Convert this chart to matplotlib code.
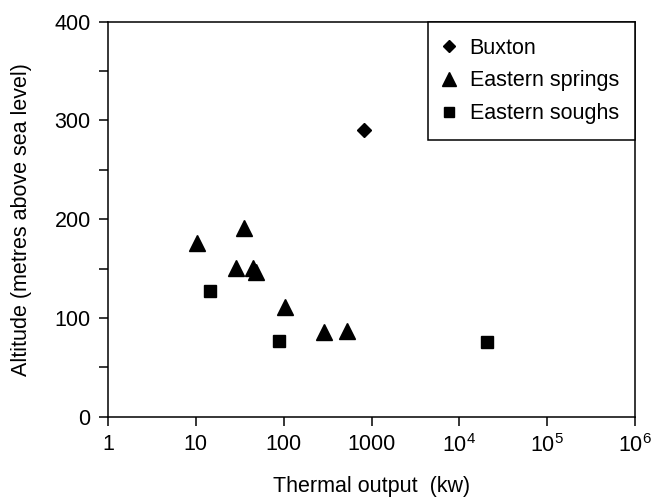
import matplotlib
matplotlib.use("Agg")
import matplotlib.pyplot as plt
from matplotlib.ticker import FixedLocator, NullLocator, MultipleLocator

plt.rcParams['font.family'] = ['Liberation Sans', 'DejaVu Sans']
plt.rcParams['mathtext.fontset'] = 'custom'
plt.rcParams['mathtext.rm'] = 'Liberation Sans'

# data
buxton_x = [830]
buxton_y = [290]

springs_x = [10.3, 35, 29, 45, 49, 104, 291, 523]
springs_y = [176, 191, 151, 151, 146, 111, 86, 87]

soughs_x = [14.5, 89, 20700]
soughs_y = [127, 77, 76]

xticks = [1, 10, 100, 1000, 1e4, 1e5, 1e6]
xlabels = ['1', '10', '100', '1000', r'$\mathregular{10^4}$',
           r'$\mathregular{10^5}$', r'$\mathregular{10^6}$']
yticks = [0, 100, 200, 300, 400]

fs = 15.5

fig = plt.figure(figsize=(6.55, 5.01), dpi=100)
fig.subplots_adjust(left=108/655, right=635/655, top=1-21.5/501, bottom=1-416.7/501)
ax = fig.add_subplot(111)

ax.plot(buxton_x, buxton_y, 'D', color='black', ms=7.5, label='Buxton', clip_on=False)
ax.plot(springs_x, springs_y, '^', color='black', ms=11.5, label='Eastern springs', clip_on=False)
ax.plot(soughs_x, soughs_y, 's', color='black', ms=9, label='Eastern soughs', clip_on=False)

ax.set_xscale('log')
ax.set_xlim(1, 1e6)
ax.set_ylim(0, 400)
ax.xaxis.set_major_locator(FixedLocator(xticks))
ax.xaxis.set_minor_locator(NullLocator())
ax.set_xticklabels(xlabels)
ax.set_yticks(yticks)
ax.yaxis.set_minor_locator(MultipleLocator(50))

for s in ax.spines.values():
    s.set_linewidth(1.1)
ax.tick_params(which='both', direction='out', length=6.5, width=1.1, labelsize=fs, pad=6)

ax.set_xlabel('Thermal output  (kw)', fontsize=fs, labelpad=14)
ax.set_ylabel('Altitude (metres above sea level)', fontsize=fs, labelpad=16)

leg = ax.legend(loc='upper right', borderaxespad=0, fontsize=fs, fancybox=False,
                framealpha=1, edgecolor='black', borderpad=0.75, handlelength=0.5,
                handletextpad=0.7, labelspacing=0.55, numpoints=1)
leg.get_frame().set_linewidth(1.1)
for h in leg.legend_handles:
    h.set_markersize(h.get_markersize() * 0.85)

fig.savefig('out.png', dpi=100)
